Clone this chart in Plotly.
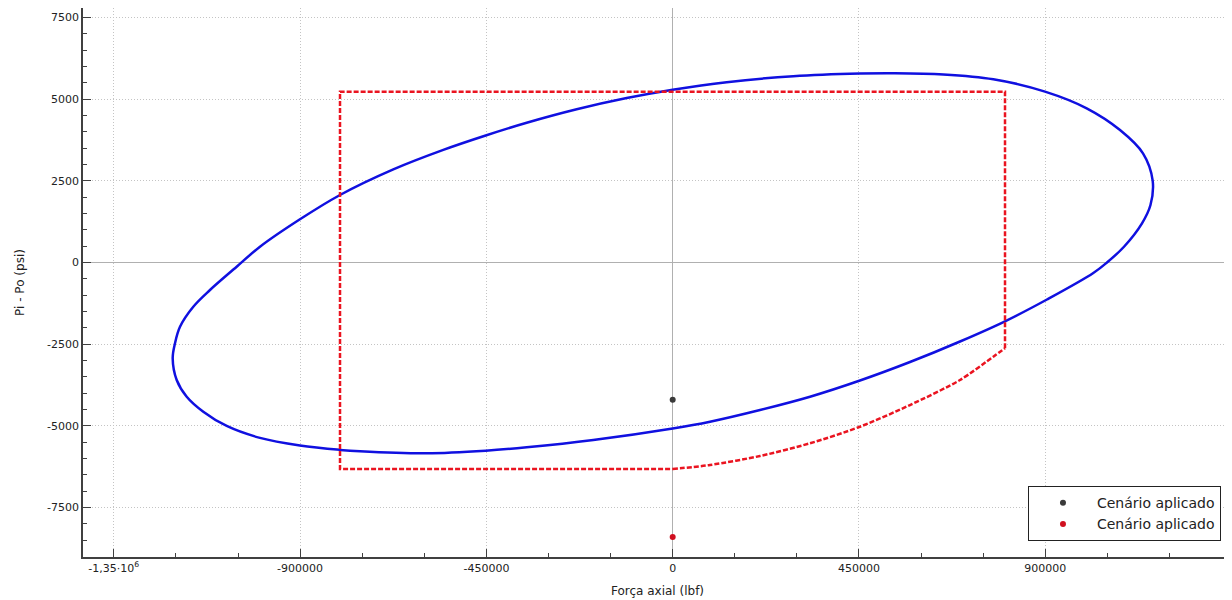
import plotly.graph_objects as go

# Triaxial (von Mises) envelope: axial force (lbf), Pi - Po (psi)
ellipse_force = [-1207750, -1202200, -1190100, -1158000, -1117700, -1053200, -996900, -900300,
                 -803600, -674900, -554100, -451700, -352700, -231900, -111100, 0,
                 130400, 291300, 452400, 532900, 653600, 774400, 899300, 1000000,
                 1080500, 1136000, 1159400, 1154100, 1133600, 1090100, 1049000, 1016000,
                 904100, 802700, 694000, 573200, 452400, 331700, 210900, 90100,
                 0, -191800, -352700, -451700, -594200, -755300, -803600, -900300,
                 -996900, -1077300, -1133800, -1173900, -1198100, -1207750]
ellipse_dp = [-2931, -2472, -1965, -1353, -842, -129, 483, 1322,
              2066, 2849, 3446, 3886, 4275, 4688, 5031, 5285,
              5517, 5701, 5783, 5793, 5756, 5609, 5230, 4719,
              4055, 3342, 2503, 1760, 1200, 483, 0, -321,
              -1132, -1799, -2417, -3045, -3611, -4107, -4514, -4872,
              -5080, -5432, -5655, -5759, -5838, -5777, -5734, -5600,
              -5367, -5003, -4566, -4107, -3596, -2931]

# Design limit (red dashed): straight box part and curved lower-right part
limit_box_force = [802700, 802700, -803600, -803600, 0]
limit_box_dp = [-2626, 5227, 5227, -6319, -6319]
limit_curve_force = [0, 90100, 210900, 331700, 452400, 573200, 694000, 774400, 802700]
limit_curve_dp = [-6319, -6197, -5921, -5532, -5025, -4361, -3596, -2883, -2626]

# Applied scenarios
scen1_force = [0]
scen1_dp = [-4200]
scen2_force = [0]
scen2_dp = [-8400]
scenario_name = "Cenário aplicado"

x_tickvals = [-1350000, -900000, -450000, 0, 450000, 900000]
x_ticktext = ["-1,35·10<sup>6</sup>", "-900000", "-450000", "0", "450000", "900000"]
y_tickvals = [-7500, -5000, -2500, 0, 2500, 5000, 7500]
y_ticktext = ["-7500", "-5000", "-2500", "0", "2500", "5000", "7500"]

RED = "#ea1420"

fig = go.Figure()
fig.add_trace(go.Scatter(x=ellipse_force, y=ellipse_dp, mode="lines",
                         line=dict(color="#1010e0", width=2.5, shape="spline", smoothing=1.0),
                         showlegend=False, hoverinfo="skip"))
fig.add_trace(go.Scatter(x=limit_box_force, y=limit_box_dp, mode="lines",
                         line=dict(color=RED, width=2.5, dash="5px,2px"),
                         showlegend=False, hoverinfo="skip"))
fig.add_trace(go.Scatter(x=limit_curve_force, y=limit_curve_dp, mode="lines",
                         line=dict(color=RED, width=2.5, dash="5px,2px", shape="spline", smoothing=0.8),
                         showlegend=False, hoverinfo="skip"))
fig.add_trace(go.Scatter(x=scen1_force, y=scen1_dp, mode="markers", name=scenario_name,
                         marker=dict(color="#3a3a3a", size=6)))
fig.add_trace(go.Scatter(x=scen2_force, y=scen2_dp, mode="markers", name=scenario_name,
                         marker=dict(color="#d01020", size=6)))

axis_common = dict(
    showline=True, linecolor="#404040", linewidth=1.5,
    ticks="inside", ticklen=8, tickcolor="#404040", tickwidth=1,
    showgrid=True, gridcolor="#c4c4c4", griddash="1px,2px", gridwidth=1,
    zeroline=True, zerolinecolor="#b0b0b0", zerolinewidth=1,
    tickfont=dict(family="DejaVu Sans", size=11, color="#222"),
    mirror=False,
)

# The page body has an 8px default margin, so the figure is sized/offset to compensate
fig.update_layout(
    width=1224, height=592,
    margin=dict(l=75, r=0, t=0, b=43),
    paper_bgcolor="white", plot_bgcolor="white",
    font=dict(family="DejaVu Sans", size=11, color="#222"),
    xaxis=dict(range=[-1424400, 1351000], tickmode="array", tickvals=x_tickvals,
               ticktext=x_ticktext,
               minor=dict(dtick=150000, tick0=0, ticks="inside", ticklen=4, tickcolor="#404040", showgrid=False),
               title=dict(text="Força axial (lbf)", font=dict(family="DejaVu Sans", size=12), standoff=13),
               **axis_common),
    yaxis=dict(range=[-9012, 7788], tickmode="array", tickvals=y_tickvals, ticktext=y_ticktext,
               minor=dict(dtick=500, tick0=0, ticks="inside", ticklen=4, tickcolor="#404040", showgrid=False),
               title=dict(text="Pi - Po (psi)", font=dict(family="DejaVu Sans", size=12), standoff=20),
               **axis_common),
    legend=dict(x=0.9904, y=0.029, xanchor="right", yanchor="bottom",
                bgcolor="white", bordercolor="#222", borderwidth=1,
                font=dict(family="DejaVu Sans", size=14, color="#222"),
                tracegroupgap=0, itemwidth=58),
    showlegend=True,
)

fig.write_html("out.html", config={"displayModeBar": False})
